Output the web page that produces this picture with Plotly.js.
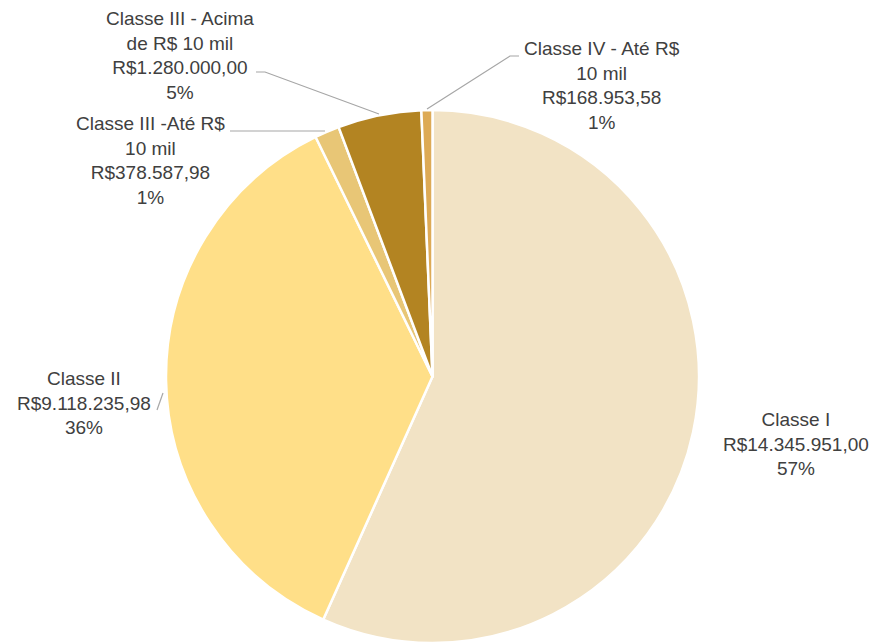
<!DOCTYPE html>
<html>
<head>
<meta charset="utf-8">
<script src="https://cdn.plot.ly/plotly-3.0.1.min.js"></script>
<style>
  html, body { margin: 0; padding: 0; background: #fff; overflow: hidden; }
</style>
</head>
<body>
<div id="plot-id"></div>
<script>
// Data
var classNames = ["Classe I", "Classe II", "Classe III -Até R$ 10 mil",
                  "Classe III - Acima de R$ 10 mil", "Classe IV - Até R$ 10 mil"];
var classLines = ["Classe I", "Classe II", "Classe III -Até R$<br>10 mil",
                  "Classe III - Acima<br>de R$ 10 mil", "Classe IV - Até R$<br>10 mil"];
var classValues = [14345951.00, 9118235.98, 378587.98, 1280000.00, 168953.58];
var sliceColors = ['#F2E3C5', '#FFDF88', '#E8C676', '#B38422', '#DDAA55'];

var W = 870, H = 660;

// brazilian number format, R$1.234,56
function brl(v) {
    var parts = v.toFixed(2).split(".");
    var intPart = parts[0].replace(/\B(?=(\d{3})+(?!\d))/g, ".");
    return "R$" + intPart + "," + parts[1];
}

var total = classValues.reduce(function (a, b) { return a + b; }, 0);

// pixel -> paper helpers
function px(x) { return x / W; }
function py(y) { return 1 - y / H; }

// label block centres (pixels) and leader lines
var labelPos = [[796, 444], [84, 403], [150, 160], [180, 56], [602, 85]];
var leaderPaths = [
    null,
    [[163, 393], [157, 410]],
    [[230, 131], [325, 131]],
    [[256, 72], [265, 72], [379, 114]],
    [[519, 56], [510, 56], [427, 109]]
];

var annotations = [];
var shapes = [];
for (var i = 0; i < classValues.length; i++) {
    var pct = Math.round(classValues[i] / total * 100);
    annotations.push({
        xref: 'paper', yref: 'paper',
        x: px(labelPos[i][0]), y: py(labelPos[i][1]),
        xanchor: 'center', yanchor: 'middle', align: 'center',
        showarrow: false,
        text: classLines[i] + "<br>" + brl(classValues[i]) + "<br>" + pct + "%",
        font: {family: 'Liberation Sans, Arial, sans-serif', size: 19, color: '#404040'}
    });
    if (leaderPaths[i]) {
        var d = leaderPaths[i].map(function (p, k) {
            return (k === 0 ? "M " : " L ") + px(p[0]) + " " + py(p[1]);
        }).join("");
        shapes.push({
            type: 'path', xref: 'paper', yref: 'paper', path: d,
            line: {color: '#A6A6A6', width: 1.2}
        });
    }
}

var pieData = [{
    type: 'pie',
    values: classValues,
    labels: classNames,
    sort: false,
    direction: 'clockwise',
    rotation: 0,
    textinfo: 'none',
    hoverinfo: 'label+value+percent',
    marker: {
        colors: sliceColors,
        line: {color: '#FFFFFF', width: 2.5}
    },
    domain: {
        x: [px(432.5 - 300), px(432.5 + 300)],
        y: [py(643), py(110)]
    }
}];

var pieLayout = {
    width: W,
    height: H,
    margin: {t: 0, l: 0, r: 0, b: 0},
    showlegend: false,
    paper_bgcolor: '#FFFFFF',
    annotations: annotations,
    shapes: shapes
};

Plotly.newPlot('plot-id', pieData, pieLayout, {displayModeBar: false});
</script>
</body>
</html>
